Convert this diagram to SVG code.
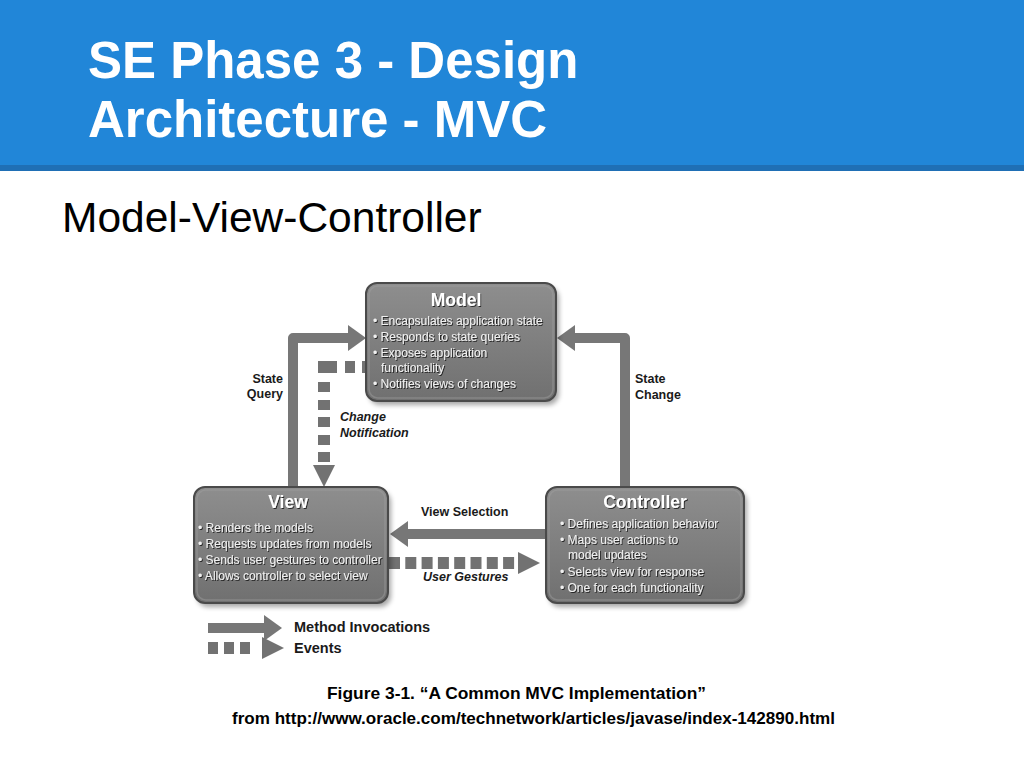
<svg xmlns="http://www.w3.org/2000/svg" width="1024" height="768" viewBox="0 0 1024 768">
<style>
.title{font-family:"Liberation Sans",Arial,sans-serif;font-weight:bold;font-size:51px;fill:#ffffff}
.sub{font-family:"Liberation Sans",Arial,sans-serif;font-size:42.5px;fill:#000000}
.cap{font-family:"Liberation Sans",Arial,sans-serif;font-weight:bold;font-size:17px;fill:#000000}
.box{fill:url(#boxg);stroke:#4a4a4a;stroke-width:2}
.rim{fill:none;stroke:#a0a0a0;stroke-opacity:0.45;stroke-width:1.5}
.shadow{fill:#000;opacity:0.35;filter:url(#blur)}
.ntitle{font-family:"Liberation Sans",Arial,sans-serif;font-weight:bold;font-size:17.5px;fill:#ffffff;text-anchor:middle;filter:url(#tsh)}
.item{font-family:"Liberation Sans",Arial,sans-serif;font-size:12px;fill:#f0f0f0;filter:url(#tsh)}
.method{fill:none;stroke:#777777;stroke-width:10;stroke-linejoin:round}
.event{fill:none;stroke:#727272;stroke-width:12;stroke-linejoin:miter}
.lbl{font-family:"Liberation Sans",Arial,sans-serif;font-weight:bold;font-size:12.5px;fill:#1a1a1a}
.ilbl{font-family:"Liberation Sans",Arial,sans-serif;font-weight:bold;font-style:italic;font-size:12.5px;fill:#1a1a1a}
.leg{font-family:"Liberation Sans",Arial,sans-serif;font-weight:bold;font-size:14.5px;fill:#1a1a1a}
</style>
<defs>
<linearGradient id="boxg" x1="0" y1="0" x2="0" y2="1">
<stop offset="0" stop-color="#8e8e8e"/>
<stop offset="1" stop-color="#707070"/>
</linearGradient>
<filter id="blur" x="-10%" y="-10%" width="120%" height="120%"><feGaussianBlur stdDeviation="2.5"/></filter>
<filter id="tsh" x="-5%" y="-30%" width="110%" height="160%"><feDropShadow dx="1" dy="1" stdDeviation="0.6" flood-color="#1e1e1e" flood-opacity="0.9"/></filter>
<marker id="mh" markerUnits="userSpaceOnUse" markerWidth="18" markerHeight="26" viewBox="0 0 18 26" refX="0" refY="13" orient="auto">
<path d="M0,0 L18,13 L0,26 Z" fill="#777777"/>
</marker>
<marker id="eh" markerUnits="userSpaceOnUse" markerWidth="22" markerHeight="22" viewBox="0 0 22 22" refX="0" refY="11" orient="auto">
<path d="M0,0 L22,11 L0,22 Z" fill="#727272"/>
</marker>
</defs>

<rect x="0" y="0" width="1024" height="768" fill="#ffffff"/>
<g id="header">
<rect x="0" y="0" width="1024" height="166" fill="#2186d8"/>
<rect x="0" y="165" width="1024" height="6" fill="#1f6fb5"/>
<text class="title" x="88" y="78">SE Phase 3 - Design</text>
<text class="title" x="88" y="137">Architecture - MVC</text>
</g>
<text class="sub" x="62" y="232">Model-View-Controller</text>

<g id="connectors">
<path id="state-query" class="method" d="M293,487 V338 H348" marker-end="url(#mh)"/>
<path id="state-change" class="method" d="M625,487 V338 H575" marker-end="url(#mh)"/>
<path id="view-selection" class="method" d="M546,534 H408" marker-end="url(#mh)"/>
<path id="change-notification" class="event" d="M372,367 H324 V465" stroke-dasharray="10 7 10 8 19 9 10 8 10 7 10 8 10 7 10 3" marker-end="url(#eh)"/>
<path id="user-gestures" class="event" d="M389,563 H518" stroke-dasharray="11 5.3" marker-end="url(#eh)"/>
<text class="lbl" x="283" y="383" text-anchor="end">State</text>
<text class="lbl" x="283" y="398" text-anchor="end">Query</text>
<text class="lbl" x="635" y="383">State</text>
<text class="lbl" x="635" y="399">Change</text>
<text class="ilbl" x="340" y="421">Change</text>
<text class="ilbl" x="340" y="437">Notification</text>
<text class="lbl" x="421" y="516">View Selection</text>
<text class="ilbl" x="423" y="581">User Gestures</text>
</g>

<g id="model">
<rect class="shadow" x="369" y="287" width="190" height="118" rx="11"/>
<rect class="box" x="366" y="283" width="190" height="118" rx="11"/>
<rect class="rim" x="369" y="286" width="184" height="112" rx="9"/>
<text class="ntitle" x="456" y="306">Model</text>
<text class="item" x="373" y="325">• Encapsulates application state</text>
<text class="item" x="373" y="341">• Responds to state queries</text>
<text class="item" x="373" y="357">• Exposes application</text>
<text class="item" x="381" y="372">functionality</text>
<text class="item" x="373" y="388">• Notifies views of changes</text>
</g>

<g id="view">
<rect class="shadow" x="197" y="491" width="194" height="116" rx="11"/>
<rect class="box" x="194" y="487" width="194" height="116" rx="11"/>
<rect class="rim" x="197" y="490" width="188" height="110" rx="9"/>
<text class="ntitle" x="288" y="508">View</text>
<text class="item" x="198" y="532">• Renders the models</text>
<text class="item" x="198" y="548">• Requests updates from models</text>
<text class="item" x="198" y="564">• Sends user gestures to controller</text>
<text class="item" x="198" y="580">• Allows controller to select view</text>
</g>

<g id="controller">
<rect class="shadow" x="549" y="491" width="198" height="116" rx="11"/>
<rect class="box" x="546" y="487" width="198" height="116" rx="11"/>
<rect class="rim" x="549" y="490" width="192" height="110" rx="9"/>
<text class="ntitle" x="645" y="508">Controller</text>
<text class="item" x="560" y="528">• Defines application behavior</text>
<text class="item" x="560" y="544">• Maps user actions to</text>
<text class="item" x="568" y="559">model updates</text>
<text class="item" x="560" y="576">• Selects view for response</text>
<text class="item" x="560" y="592">• One for each functionality</text>
</g>

<g id="legend">
<path class="method" d="M208,628 H264" marker-end="url(#mh)"/>
<text class="leg" x="294" y="632">Method Invocations</text>
<path class="event" d="M208,648 H262" stroke-dasharray="10 6 10 6 10 12" marker-end="url(#eh)"/>
<text class="leg" x="294" y="653">Events</text>
</g>

<g id="caption">
<text class="cap" x="327" y="699" textLength="379" lengthAdjust="spacingAndGlyphs">Figure 3-1. “A Common MVC Implementation”</text>
<text class="cap" x="232" y="724" textLength="603" lengthAdjust="spacingAndGlyphs">from http://www.oracle.com/technetwork/articles/javase/index-142890.html</text>
</g>
</svg>
